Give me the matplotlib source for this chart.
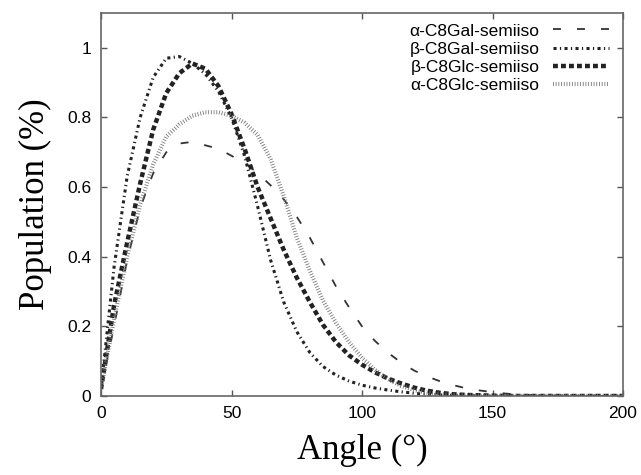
import matplotlib
matplotlib.use("Agg")
import matplotlib.pyplot as plt
from matplotlib.ticker import FuncFormatter

angle = [0, 5, 10, 15, 20, 25, 30, 35, 40, 45, 50, 55, 60, 65, 70, 75, 80, 85, 90, 95,
         100, 105, 110, 115, 120, 125, 130, 135, 140, 145, 150, 155, 160, 165, 170, 175,
         180, 185, 190, 195, 200]

alpha_gal = [0.02, 0.20, 0.39, 0.54, 0.64, 0.70, 0.725, 0.73, 0.72, 0.71, 0.69, 0.67, 0.64,
             0.605, 0.565, 0.515, 0.455, 0.385, 0.315, 0.255, 0.20, 0.158, 0.124, 0.096,
             0.073, 0.056, 0.042, 0.031, 0.022, 0.016, 0.011, 0.007, 0.004, 0.003, 0.002,
             0.001, 0.0, 0.0, 0.0, 0.0, 0.0]

beta_gal = [0.02, 0.37, 0.63, 0.80, 0.915, 0.97, 0.975, 0.955, 0.925, 0.875, 0.80, 0.69,
            0.545, 0.39, 0.27, 0.185, 0.125, 0.085, 0.06, 0.043, 0.031, 0.023, 0.017,
            0.012, 0.008, 0.005, 0.003, 0.002, 0.001, 0.0, 0.0, 0.0, 0.0, 0.0, 0.0, 0.0,
            0.0, 0.0, 0.0, 0.0, 0.0]

beta_glc = [0.02, 0.26, 0.44, 0.61, 0.765, 0.87, 0.927, 0.955, 0.94, 0.89, 0.81, 0.71,
            0.60, 0.51, 0.42, 0.34, 0.27, 0.205, 0.155, 0.117, 0.09, 0.068, 0.05, 0.036,
            0.024, 0.015, 0.009, 0.005, 0.003, 0.002, 0.001, 0.0, 0.0, 0.0, 0.0, 0.0,
            0.0, 0.0, 0.0, 0.0, 0.0]

alpha_glc = [0.02, 0.22, 0.40, 0.55, 0.665, 0.745, 0.78, 0.805, 0.815, 0.815, 0.805, 0.785,
             0.75, 0.68, 0.575, 0.455, 0.36, 0.275, 0.21, 0.155, 0.11, 0.075, 0.048,
             0.029, 0.017, 0.01, 0.006, 0.003, 0.002, 0.001, 0.0, 0.0, 0.0, 0.0, 0.0,
             0.0, 0.0, 0.0, 0.0, 0.0, 0.0]

labels = ["α-C8Gal-semiiso", "β-C8Gal-semiiso", "β-C8Glc-semiiso", "α-C8Glc-semiiso"]
x_ticks = [0, 50, 100, 150, 200]
y_ticks = [0, 0.2, 0.4, 0.6, 0.8, 1.0]

fig = plt.figure(figsize=(6.41, 4.75), dpi=100)
ax = fig.add_axes([101/641, 1-396/475, 522/641, 383/475])

ax.plot(angle, alpha_gal, color="#333333", lw=1.3, dashes=(4.4, 8.9), label=labels[0])
ax.plot(angle, beta_gal, color="#222222", lw=2.2, dashes=(1.0, 1.1, 0.4, 1.1), label=labels[1])
ax.plot(angle, beta_glc, color="#222222", lw=3.2, dashes=(1.1, 0.7), label=labels[2])
ax.plot(angle, alpha_glc, color="#777777", lw=3.0, dashes=(0.2, 0.45), label=labels[3])

ax.set_xlim(0, 200)
ax.set_ylim(0, 1.10)
ax.set_xticks(x_ticks)
ax.set_yticks(y_ticks)
ax.yaxis.set_major_formatter(FuncFormatter(lambda v, p: "%g" % v))
ax.tick_params(direction="in", length=4.3, width=1.0, color="#555555",
               top=True, right=True, labelsize=12.5, pad=7)
for lab in ax.get_xticklabels() + ax.get_yticklabels():
    lab.set_fontfamily("Liberation Sans")
for s in ax.spines.values():
    s.set_color("#666666")
    s.set_linewidth(1.2)

ax.set_xlabel("Angle (°)", fontsize=25, family="Liberation Serif")
ax.set_ylabel("Population (%)", fontsize=25, family="Liberation Serif")
ax.xaxis.label.set_va("center")
ax.yaxis.label.set_va("center")
ax.xaxis.set_label_coords(0.5, -0.141)
ax.yaxis.set_label_coords(-0.126, 0.5)

leg = ax.legend(loc="upper right", frameon=False, markerfirst=False,
                prop={"family": "Liberation Sans", "size": 12.5},
                handlelength=3.2, handletextpad=0.8, labelspacing=0.18,
                borderaxespad=0.2, bbox_to_anchor=(0.993, 1.0))

fig.savefig("out.png", dpi=100)
